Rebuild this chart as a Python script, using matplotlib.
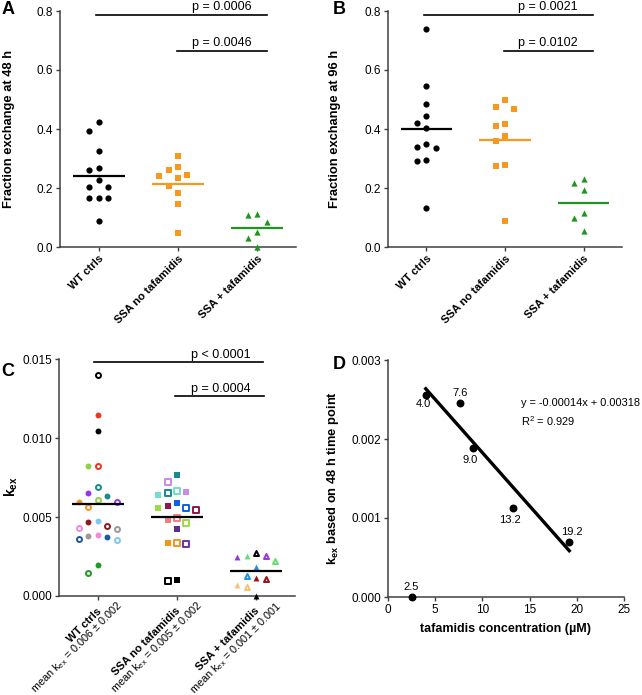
import numpy as np
import matplotlib.pyplot as plt

plt.rcParams['font.family'] = ['Liberation Sans', 'DejaVu Sans']
plt.rcParams['mathtext.fontset'] = 'custom'
plt.rcParams['mathtext.rm'] = 'Liberation Sans'
plt.rcParams['mathtext.bf'] = 'Liberation Sans:bold'
plt.rcParams['mathtext.it'] = 'Liberation Sans:italic'

groups = ["WT ctrls", "SSA no tafamidis", "SSA + tafamidis"]

# A: fraction exchange at 48 h
a_wt = [0.423, 0.394, 0.324, 0.268, 0.262, 0.228, 0.203, 0.203, 0.166, 0.166, 0.166, 0.089]
a_no = [0.307, 0.271, 0.262, 0.245, 0.240, 0.234, 0.206, 0.183, 0.147, 0.047]
a_taf = [0.113, 0.110, 0.084, 0.051, 0.031, 0.0]

# B: fraction exchange at 96 h
b_wt = [0.740, 0.546, 0.486, 0.444, 0.419, 0.405, 0.349, 0.340, 0.335, 0.295, 0.290, 0.133]
b_no = [0.500, 0.473, 0.467, 0.416, 0.410, 0.377, 0.360, 0.279, 0.273, 0.088]
b_taf = [0.230, 0.217, 0.192, 0.114, 0.097, 0.055]

# C: k_ex per sample (two replicates per subject, same colour, one filled one open)
c_wt = [0.01401, 0.01147, 0.01046, 0.00824, 0.00820, 0.00693, 0.00651, 0.00634, 0.00608, 0.00598,
        0.00598, 0.00562, 0.00477, 0.00471, 0.00446, 0.00429, 0.00423, 0.00387, 0.00380, 0.00376,
        0.00363, 0.00355, 0.00196, 0.00148]
c_wt_col = ['black', '#ee3524', 'black', '#ee3524', '#8fd13f', '#1a8a8a', '#9933ee', '#1a8a8a', '#8fd13f', '#f7941d',
            '#9933ee', '#f7941d', '#7ec8f0', '#8b1c1c', '#8b1c1c', '#f08ad8', '#999999', '#f08ad8', '#999999', '#1f5a96',
            '#1f5a96', '#7ec8f0', '#229922', '#229922']
c_wt_open = [1, 0, 0, 1, 0, 1, 0, 0, 1, 0,
             1, 1, 0, 0, 1, 1, 1, 0, 0, 0,
             1, 1, 0, 1]

c_no = [0.00767, 0.00720, 0.00665, 0.00659, 0.00655, 0.00638, 0.00587, 0.00570, 0.00560, 0.00556,
        0.00545, 0.00492, 0.00480, 0.00460, 0.00423, 0.00338, 0.00334, 0.00330, 0.00101, 0.00097]
c_no_col = ['#1a8a8a', '#cc88ee', '#70e0cc', '#cc88ee', '#1a8a8a', '#70e0cc', '#1060e0', '#8b1a4b', '#1060e0', '#99dd44',
            '#8b1a4b', '#f08080', '#f08080', '#99dd44', '#5c2d91', '#f7941d', '#f7941d', '#7030a0', 'black', 'black']
c_no_open = [0, 1, 1, 0, 1, 0, 0, 0, 1, 0,
             1, 1, 0, 1, 0, 1, 0, 1, 0, 1]

c_taf = [0.00270, 0.00254, 0.00254, 0.00245, 0.00222, 0.00182, 0.00127, 0.00112, 0.00106, 0.00068,
         0.00059, 0.0]
c_taf_col = ['black', '#66dd77', '#9933dd', '#9933dd', '#66dd77', '#2090e0', '#2090e0', '#a01010', '#a01010', '#f8c070',
             '#f8c070', 'black']
c_taf_open = [1, 0, 1, 0, 1, 0, 1, 0, 1, 0,
              1, 0]

c_means = ["mean k$_{\\rm ex}$ = 0.006 \u00b1 0.002",
           "mean k$_{\\rm ex}$ = 0.005 \u00b1 0.002",
           "mean k$_{\\rm ex}$ = 0.001 \u00b1 0.001"]

# D: k_ex vs tafamidis concentration
d_conc = [2.5, 4.0, 7.6, 9.0, 13.2, 19.2]
d_kex = [0.0, 0.00256, 0.00246, 0.00188, 0.00113, 0.00070]
d_lab_off = [(0, 7), (-2, -7), (0, 7), (-2, -8), (-2, -9), (2, 7)]  # label offsets (pt)

p_ab = [["p = 0.0006", "p = 0.0046"], ["p = 0.0021", "p = 0.0102"]]
p_c = ["p < 0.0001", "p = 0.0004"]

orange = '#f7981f'
green = '#1e961e'
axcol = '#404040'

fig = plt.figure(figsize=(6.42, 6.95), dpi=100)
W, H = 642, 695


def add_ax(left, top, right, bottom):
    return fig.add_axes([left / W, 1 - bottom / H, (right - left) / W, (bottom - top) / H])


def style(ax):
    for s in ['top', 'right']:
        ax.spines[s].set_visible(False)
    for s in ['left', 'bottom']:
        ax.spines[s].set_color(axcol)
        ax.spines[s].set_linewidth(1.1)
    ax.tick_params(direction='out', length=2.8, width=1.0, color=axcol, labelsize=8.5, pad=2)


def swarm(ax, vals, center, dx=9.4, dy=10.0):
    vals = np.asarray(vals, float)
    pts = ax.transData.transform(np.column_stack([np.full(len(vals), center), vals]))
    ys = pts[:, 1]
    x0 = pts[0, 0]
    offs = np.zeros(len(vals))
    placed = []
    for i in np.argsort(-vals, kind='stable'):
        cands = [0.0]
        for (px, py) in placed:
            if abs(ys[i] - py) < dy:
                cands += [px - dx, px + dx]
        cands = sorted(set(cands), key=lambda c: (abs(c), c))
        for c in cands:
            if all(abs(c - px) >= dx - 1e-6 or abs(ys[i] - py) >= dy for (px, py) in placed):
                break
        offs[i] = c
        placed.append((c, ys[i]))
    back = ax.transData.inverted().transform(np.column_stack([x0 + offs, ys]))
    return back[:, 0]


def sig(ax, x1, x2, y, txt):
    ax.plot([x1, x2], [y, y], color='black', lw=1.2, clip_on=False)
    ax.annotate(txt, (1.55, y), xytext=(0, 1), textcoords='offset points',
                ha='center', va='bottom', fontsize=9, annotation_clip=False)


def column_panel(ax, data, markers, colors, ylabel, ymax, yticks, fmt):
    ax.set_xlim(-0.49, 2.49)
    ax.set_ylim(0, ymax)
    style(ax)
    ax.set_yticks(yticks)
    ax.set_yticklabels([fmt.format(t) for t in yticks])
    ax.set_xticks(range(3))
    ax.set_xticklabels(groups, rotation=45, ha='right', rotation_mode='anchor',
                       fontsize=8, fontweight='bold')
    for i, (vals, m, c) in enumerate(zip(data, markers, colors)):
        xs = swarm(ax, vals, i)
        ax.scatter(xs, vals, marker=m, s=20, color=c, linewidths=0, clip_on=False, zorder=3)
        ax.hlines(np.mean(vals), i - 0.33, i + 0.33, color=c, lw=1.6, zorder=2)
    ax.set_ylabel(ylabel, fontsize=9.3, fontweight='bold')


# Panel A
axA = add_ax(60, 11, 296, 247)
column_panel(axA, [a_wt, a_no, a_taf], ['o', 's', '^'], ['black', orange, green],
             'Fraction exchange at 48 h', 0.8, [0, 0.2, 0.4, 0.6, 0.8], '{:.1f}')
axA.yaxis.set_label_coords(-0.19, 0.5)
sig(axA, -0.03, 2.12, 0.787, p_ab[0][0])
sig(axA, 0.99, 2.12, 0.665, p_ab[0][1])

# Panel B
axB = add_ax(388, 11, 622, 247)
column_panel(axB, [b_wt, b_no, b_taf], ['o', 's', '^'], ['black', orange, green],
             'Fraction exchange at 96 h', 0.8, [0, 0.2, 0.4, 0.6, 0.8], '{:.1f}')
axB.yaxis.set_label_coords(-0.2, 0.5)
sig(axB, -0.03, 2.12, 0.787, p_ab[1][0])
sig(axB, 0.99, 2.12, 0.665, p_ab[1][1])

# Panel C
axC = add_ax(59, 359, 295, 596)
axC.set_xlim(-0.49, 2.49)
axC.set_ylim(0, 0.015)
style(axC)
ct = [0, 0.005, 0.010, 0.015]
axC.set_yticks(ct)
axC.set_yticklabels(['{:.3f}'.format(t) for t in ct])
axC.set_xticks(range(3))
axC.set_xticklabels([])
for i, (vals, cols, opn, m) in enumerate(zip([c_wt, c_no, c_taf], [c_wt_col, c_no_col, c_taf_col],
                                            [c_wt_open, c_no_open, c_taf_open], ['o', 's', '^'])):
    xs = swarm(axC, vals, i)
    for x, v, c, o in zip(xs, vals, cols, opn):
        if o:
            axC.scatter(x, v, marker=m, s=13, facecolors='white', edgecolors=c, linewidths=1.4,
                        clip_on=False, zorder=3)
        else:
            axC.scatter(x, v, marker=m, s=18, color=c, linewidths=0, clip_on=False, zorder=3)
    axC.hlines(np.mean(vals), i - 0.33, i + 0.33, color='black', lw=1.6, zorder=4)
    axC.annotate(groups[i], (i, 0), xycoords=('data', 'axes fraction'), xytext=(1.4, -9.7),
                 textcoords='offset points', rotation=45, rotation_mode='anchor',
                 ha='right', va='center', fontsize=8, fontweight='bold')
    axC.annotate(c_means[i], (i, 0), xycoords=('data', 'axes fraction'), xytext=(17, -5.5),
                 textcoords='offset points', rotation=45, rotation_mode='anchor',
                 ha='right', va='center', fontsize=7.8)
axC.set_ylabel(r'$\mathbf{k_{ex}}$', fontsize=10)
axC.yaxis.set_label_coords(-0.165, 0.46)
sig(axC, -0.05, 2.08, 0.01479, p_c[0])
sig(axC, 0.97, 2.1, 0.01263, p_c[1])

# Panel D
axD = add_ax(388, 360, 624, 597)
style(axD)
axD.set_xlim(0, 25)
axD.set_ylim(0, 0.003)
axD.set_xticks(range(0, 26, 5))
dt = [0, 0.001, 0.002, 0.003]
axD.set_yticks(dt)
axD.set_yticklabels(['{:.3f}'.format(t) for t in dt])
axD.scatter(d_conc, d_kex, s=22, color='black', clip_on=False, zorder=3)
xf = np.array([c for c in d_conc if c >= 4])
yf = np.array([k for c, k in zip(d_conc, d_kex) if c >= 4])
slope, icpt = np.polyfit(xf, yf, 1)
xl = np.array([xf.min(), xf.max()])
axD.plot(xl, slope * xl + icpt, color='black', lw=2.4)
for c, k, off in zip(d_conc, d_kex, d_lab_off):
    axD.annotate('{:.1f}'.format(c), (c, k), xytext=off, textcoords='offset points',
                 ha='center', va='center', fontsize=8, annotation_clip=False)
axD.text(14.05, 0.00246, 'y = -0.00014x + 0.00318', fontsize=7.9, va='center')
axD.text(14.05, 0.00223, 'R$^2$ = 0.929', fontsize=7.9, va='center')
axD.set_xlabel('tafamidis concentration (\u00b5M)', fontsize=9, fontweight='bold', labelpad=5)
axD.set_ylabel(r'$\mathbf{k_{ex}}$ based on 48 h time point', fontsize=9.3, fontweight='bold')
axD.yaxis.set_label_coords(-0.2, 0.5)

for lab, x, y in [('A', 8, 9), ('B', 339, 9), ('C', 8, 371), ('D', 339, 364)]:
    fig.text(x / W, 1 - y / H, lab, fontsize=13, fontweight='bold', ha='center', va='center')

fig.savefig('out.png', dpi=100)
